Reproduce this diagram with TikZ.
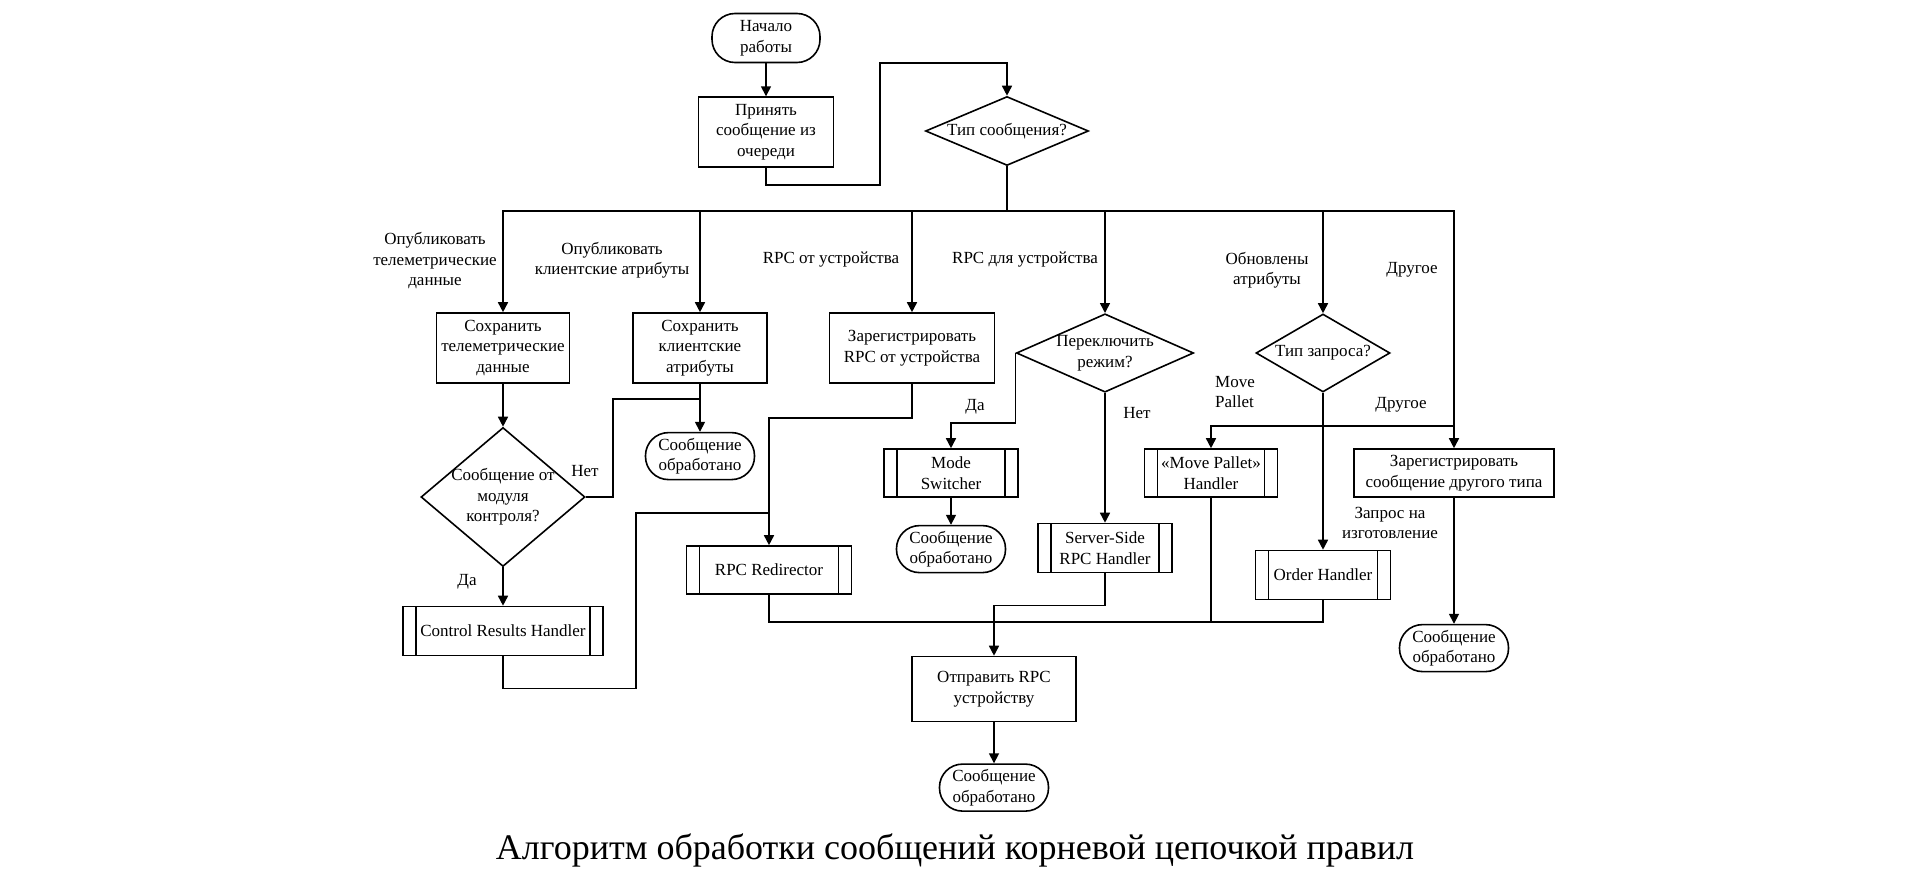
\documentclass[tikz,border=0pt]{standalone}
\usepackage{fontspec}
\setmainfont{Liberation Serif}
\usetikzlibrary{shapes.geometric, arrows.meta, positioning, calc}

\begin{document}
\begin{tikzpicture}[
      x=1pt, y=-1pt,
      line width=1.6pt,
      font=\fontsize{17}{20.5}\selectfont,
      node distance=30pt,
      term/.style={rectangle, draw, rounded corners=23pt, minimum width=109pt, minimum height=47pt, inner sep=1pt, align=center},
      proc/.style={rectangle, draw, minimum width=133pt, minimum height=70pt, align=center},
      sub/.style={rectangle, draw, minimum width=134pt, minimum height=48pt, align=center,
        path picture={\draw ([xshift=13pt]path picture bounding box.north west) -- ([xshift=13pt]path picture bounding box.south west)
          ([xshift=-13pt]path picture bounding box.north east) -- ([xshift=-13pt]path picture bounding box.south east);}},
      dec/.style={diamond, draw, inner sep=0pt, align=center},
      lbl/.style={inner sep=0pt, align=center},
      arrow/.style={-{Triangle[length=10pt, width=10pt]}}
    ]
    \useasboundingbox (0,0) rectangle (1920,880);

    \node[term, minimum width=108pt, minimum height=49pt] (start) at (766,38) {Начало\\работы};
    \node[proc, minimum width=135pt, below=33pt of start] (accept) {Принять\\сообщение из\\очереди};
    \node[dec, minimum width=163pt, minimum height=69pt, aspect=2.36] (msgtype) at (1007,131) {Тип сообщения?};
    \coordinate (bus) at (1007,211);

    % first row
    \node[proc] (savetelem) at (503,348) {Сохранить\\телеметрические\\данные};
    \node[proc, minimum width=134pt] (saveattr) at (700,348) {Сохранить\\клиентские\\атрибуты};
    \node[proc, minimum width=165pt] (regrpc) at (912,348) {Зарегистрировать\\RPC от устройства};
    \node[dec, minimum width=176pt, minimum height=78pt, aspect=2.26] (switch) at (1105,353) {Переключить\\режим?};
    \node[dec, minimum width=134pt, minimum height=78pt, aspect=1.72] (reqtype) at (1323,353) {Тип запроса?};

    \node[term, below=48pt of saveattr] (attrdone) {Сообщение\\обработано};
    \node[dec, minimum width=164pt, minimum height=139pt, aspect=1.18, inner sep=-2pt] (fromctrl) at (503,497) {Сообщение от\\модуля\\контроля?};
    \node[sub, minimum width=200pt, minimum height=49pt] (ctrlres) at (503,631) {Control Results Handler};
    \node[sub, minimum width=165pt] (redir) at (769,570) {RPC Redirector};
    \node[sub] (modesw) at (951,473) {Mode\\Switcher};
    \node[term, below=27pt of modesw] (modedone) {Сообщение\\обработано};
    \node[sub, minimum height=49pt] (serverrpc) at (1105,548) {Server-Side\\RPC Handler};
    \node[sub, minimum width=133pt] (pallet) at (1211,473) {«Move Pallet»\\Handler};
    \node[sub, minimum width=135pt, minimum height=49pt] (order) at (1323,575) {Order Handler};
    \node[proc, minimum width=200pt, minimum height=48pt] (regother) at (1454,473) {Зарегистрировать\\сообщение другого типа};
    \node[term, below=126pt of regother] (otherdone) {Сообщение\\обработано};
    \node[proc, minimum width=164pt, minimum height=65pt] (sendrpc) at (994,689) {Отправить RPC\\устройству};
    \node[term, below=41pt of sendrpc] (rpcdone) {Сообщение\\обработано};

    % labels
    \node[lbl] (ltelem) at (435,261) {Опубликовать\\телеметрические\\данные};
    \node[lbl] (lattr) at (612,260) {Опубликовать\\клиентские атрибуты};
    \node[lbl] (lfromdev) at (831,260) {RPC от устройства};
    \node[lbl] (ltodev) at (1025,260) {RPC для устройства};
    \node[lbl] (lupd) at (1267,270) {Обновлены\\атрибуты};
    \node[lbl] (lother) at (1412,270) {Другое};
    \node[lbl, align=left] (lpallet) at (1235,392) {Move\\Pallet};
    \node[lbl] (lother2) at (1401,405) {Другое};
    \node[lbl] (lorder) at (1390,523) {Запрос на\\изготовление};
    \node[lbl] (lyes1) at (975,407) {Да};
    \node[lbl] (lno1) at (1137,413) {Нет};
    \node[lbl] (lno2) at (585,471) {Нет};
    \node[lbl] (lyes2) at (467,582) {Да};
    \node[lbl, font=\fontsize{36}{42}\selectfont] (caption) at (955,850) {Алгоритм обработки сообщений корневой цепочкой правил};

    % connectors
    \draw[arrow] (start) -- (accept);
    \draw[arrow] (accept.south) -- ++(0,17) -| (880,63) -| (msgtype.north);
    \draw (msgtype.south) -- (bus);
    \foreach \dst in {savetelem, saveattr, regrpc, switch, reqtype, regother}
      \draw[arrow] (bus) -| (\dst.north);

    \draw[arrow] (savetelem) -- (fromctrl);
    \draw[arrow] (saveattr) -- (attrdone);
    \coordinate (attrjoin) at (700,399);
    \draw (fromctrl.east) -- ++(27,0) |- (attrjoin);
    \draw[arrow] (fromctrl) -- (ctrlres);
    \coordinate (redirjoin) at (769,513);
    \draw (ctrlres.south) -- ++(0,32) -| (636,513) -- (redirjoin);
    \draw[arrow] (regrpc.south) -- ++(0,34) -| (redir.north);

    \draw[arrow] (switch.west) -- ++(0,70) -| (modesw.north);
    \draw[arrow] (modesw) -- (modedone);
    \draw[arrow] (switch) -- (serverrpc);

    \coordinate (reqjoin) at (1323,426);
    \draw[arrow] (reqtype) -- (order);
    \draw[arrow] (reqjoin) -| (pallet.north);
    \draw (reqjoin) -- (regother.north |- reqjoin);
    \draw[arrow] (regother) -- (otherdone);

    \coordinate (sendbus) at (994,622);
    \draw (redir.south) |- (sendbus) -| (order.south);
    \draw (pallet.south) -- (pallet.south |- sendbus);
    \draw[arrow] (serverrpc.south) -- ++(0,32) -| (sendrpc.north);
    \draw[arrow] (sendrpc) -- (rpcdone);
  \end{tikzpicture}
\end{document}
